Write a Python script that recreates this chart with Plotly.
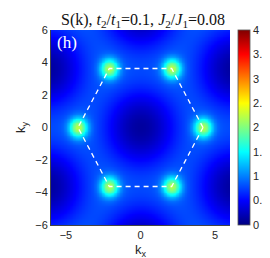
import numpy as np
import plotly.graph_objects as go

# ---- values ----
# Bragg-peak positions (corners of the first Brillouin zone)
peak_kx = [4.19, 2.09, -2.09, -4.19, -2.09, 2.09]
peak_ky = [0.0, 3.63, 3.63, 0.0, -3.63, -3.63]
peak_height = [2.2, 2.25, 2.2, 2.25, 2.2, 2.2]
peak_width = [0.42, 0.42, 0.42, 0.42, 0.42, 0.42]
# background levels of S(k)
s_gamma = 0.12   # at zone centres (dark)
s_m = 0.78       # at zone-edge midpoints
# axes
x_ticks = [-5, 0, 5]
y_ticks = [-6, -4, -2, 0, 2, 4, 6]
c_ticks = [0, 0.5, 1, 1.5, 2, 2.5, 3, 3.5, 4]

# ---- build the map ----
kx = np.linspace(-6.1, 6.1, 245)
ky = np.linspace(-6.1, 6.1, 245)
KX, KY = np.meshgrid(kx, ky)
gam = np.cos(KX) + 2 * np.cos(KX / 2) * np.cos(np.sqrt(3) * KY / 2)
D = (s_m - s_gamma) / 4.0
B = s_m - D
Z = B - D * gam
bg_k = B + 1.5 * D
for px, py, h, w in zip(peak_kx, peak_ky, peak_height, peak_width):
    Z = Z + (h - bg_k) * np.exp(-((KX - px) ** 2 + (KY - py) ** 2) / (2 * w ** 2))

jet = [[0.0, "rgb(0,0,128)"], [0.125, "rgb(0,0,255)"], [0.375, "rgb(0,255,255)"],
       [0.625, "rgb(255,255,0)"], [0.875, "rgb(255,0,0)"], [1.0, "rgb(128,0,0)"]]

fig = go.Figure()
fig.add_trace(go.Heatmap(
    x=kx, y=ky, z=Z, zmin=0, zmax=4, colorscale=jet, zsmooth="best",
    colorbar=dict(thickness=12, len=1, lenmode="fraction", y=0.5, yanchor="middle",
                  x=1.046, xanchor="left", xpad=0, ypad=0,
                  tickvals=c_ticks, ticks="", outlinewidth=0.8, outlinecolor="#555",
                  tickfont=dict(family="Liberation Sans", size=11, color="#262626")),
))
hex_kx = peak_kx + [peak_kx[0]]
hex_ky = peak_ky + [peak_ky[0]]
fig.add_trace(go.Scatter(x=hex_kx, y=hex_ky, mode="lines",
                         line=dict(color="white", width=1.3, dash="5px,4px"),
                         hoverinfo="skip", showlegend=False))

fig.add_annotation(x=-5.75, y=5.95, xref="x", yref="y", text="(h)", showarrow=False,
                   xanchor="left", yanchor="top",
                   font=dict(family="Liberation Serif", size=17, color="white"))

fig.update_layout(
    width=270, height=258,
    margin=dict(l=36, r=39, t=22, b=41),
    paper_bgcolor="white", plot_bgcolor="white",
    title=dict(text="S(k), <i>t</i><sub>2</sub>/<i>t</i><sub>1</sub>=0.1, <i>J</i><sub>2</sub>/<i>J</i><sub>1</sub>=0.08",
               x=0.5, xref="container", xanchor="center",
               y=(258 - 11) / 258, yref="container", yanchor="middle",
               font=dict(family="Liberation Serif", size=16, color="#111")),
    xaxis=dict(range=[-6, 6], tickvals=x_ticks, ticks="", showgrid=False, zeroline=False,
               showline=True, linecolor="#444", linewidth=1,
               tickfont=dict(family="Liberation Sans", size=11, color="#262626"),
               title=dict(text="k<sub>x</sub>", standoff=4,
                          font=dict(family="Liberation Sans", size=13, color="#262626"))),
    yaxis=dict(range=[-6, 6], tickvals=y_ticks, ticks="", showgrid=False, zeroline=False,
               showline=True, linecolor="#444", linewidth=1,
               tickfont=dict(family="Liberation Sans", size=11, color="#262626"),
               title=dict(text="k<sub>y</sub>", standoff=6,
                          font=dict(family="Liberation Sans", size=13, color="#262626"))),
)
fig.write_html("out.html")
